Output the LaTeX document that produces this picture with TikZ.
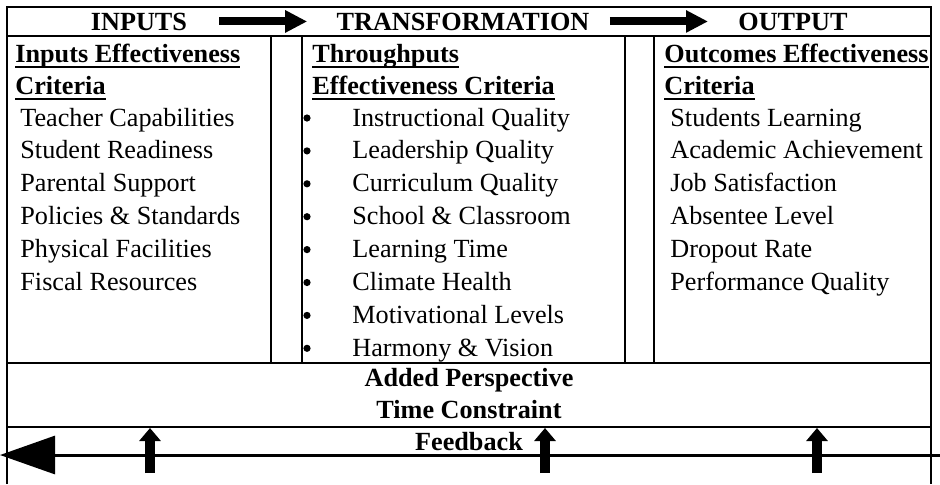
\documentclass[tikz,border=0pt]{standalone}
\usepackage{fontspec}
\setmainfont{Liberation Serif}
\usetikzlibrary{arrows.meta}

% bold heading with a heavy underline
\newcommand{\hdul}[1]{\setbox0=\hbox{#1}\rlap{\rule[-3.2pt]{\wd0}{1.3pt}}\box0}

\tikzset{
  txt/.style={font=\fontsize{13.1}{16}\selectfont,inner sep=0pt},
  bld/.style={txt,font=\fontsize{13.1}{16}\selectfont\bfseries},
  item/.style={txt,anchor=base west},
  dot/.style={circle,fill,inner sep=0pt,minimum size=3.6pt},
  frame/.style={line width=1pt},
  fatarrow/.style={line width=4pt,-{Triangle[length=11pt,width=10.5pt]}},
  uparr/.style={line width=5pt,-{Triangle[length=6.5pt,width=10.5pt]}},
  fbline/.style={line width=1.5pt,-{Triangle[length=27.5pt,width=19pt]}}
}

\begin{document}
\begin{tikzpicture}[x=0.5pt,y=-0.5pt,>=Latex]
      \useasboundingbox (0,0) rectangle (940,484);
      % table lines
      \draw[frame] (7,484) -- (7,7) -- (931,7) -- (931,484);
      \draw[frame] (7,36) -- (931,36);
      \draw[frame] (7,363) -- (931,363);
      \draw[frame] (7,427) -- (931,427);
      \foreach \x in {271,302,625,654}
        \draw[frame] (\x,36) -- (\x,363);
      % header row
      \node[bld,anchor=base] (inp) at (139,30) {INPUTS};
      \node[bld,anchor=base] (trf) at (463,30) {TRANSFORMATION};
      \node[bld,anchor=base] (out) at (793,30) {OUTPUT};
      \draw[fatarrow,shorten <=16pt,shorten >=14.5pt] (inp.east) -- (trf.west);
      \draw[fatarrow,shorten <=10pt,shorten >=15pt] (trf.east) -- (out.west);
      % inputs column
      \node[bld,anchor=base west] (inh1) at (15,62) {\hdul{Inputs Effectiveness}};
      \node[bld,anchor=base west] (inh2) at (15,94) {\hdul{Criteria}};
      \foreach \t [count=\k from 0] in {Teacher Capabilities,Student Readiness,
          Parental Support,Policies \& Standards,Physical Facilities,Fiscal Resources}
        \node[item] (in\k) at (20,126+32.9*\k) {\t};
      % throughputs column
      \node[bld,anchor=base west] (thh1) at (312,62) {\hdul{Throughputs}};
      \node[bld,anchor=base west] (thh2) at (312,94) {\hdul{Effectiveness Criteria}};
      \foreach \t [count=\k from 0] in {Instructional Quality,Leadership Quality,
          Curriculum Quality,School \& Classroom,Learning Time,Climate Health,
          Motivational Levels,Harmony \& Vision}{
        \node[dot] (bu\k) at (307,118+32.9*\k) {};
        \node[item] (th\k) at (352,126+32.9*\k) {\t};
      }
      % outcomes column
      \node[bld,anchor=base west] (ouh1) at (664,62) {\hdul{Outcomes Effectiveness}};
      \node[bld,anchor=base west] (ouh2) at (664,94) {\hdul{Criteria}};
      \foreach \t [count=\k from 0] in {Students Learning,Academic Achievement,
          Job Satisfaction,Absentee Level,Dropout Rate,Performance Quality}
        \node[item] (ou\k) at (670,126+32.9*\k) {\t};
      % bottom rows
      \node[bld,anchor=base] (ap) at (469,386) {Added Perspective};
      \node[bld,anchor=base] (tc) at (469,418) {Time Constraint};
      \node[bld,anchor=base] (fb) at (469,450) {Feedback};
      \coordinate (fbR) at (940,455);
      \coordinate (fbL) at (0,455);
      \draw[fbline] (fbR) -- (fbL);
      \foreach \x [count=\k] in {150,545,817}{
        \coordinate (up\k a) at (\x,473);
        \coordinate (up\k b) at (\x,428);
        \draw[uparr] (up\k a) -- (up\k b);
      }
    \end{tikzpicture}
\end{document}
